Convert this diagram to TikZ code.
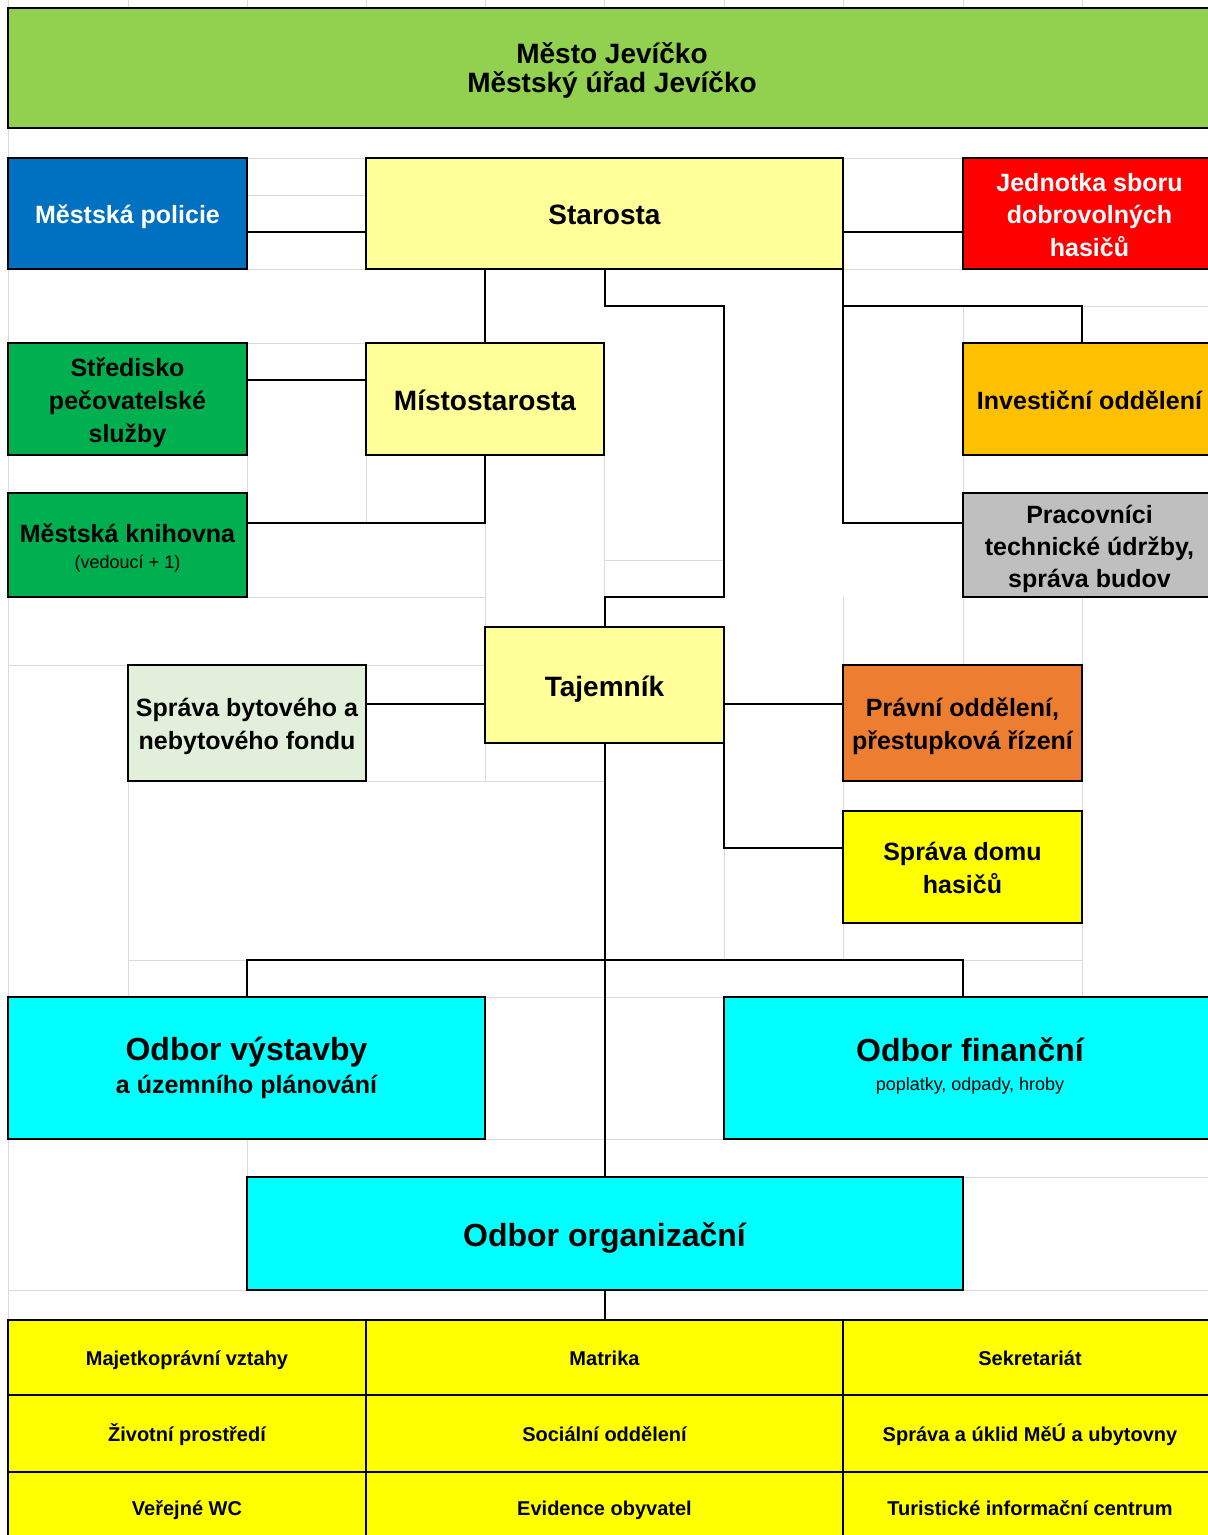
\documentclass[tikz,border=0pt]{standalone}
\usepackage{fontspec}
\setmainfont{Liberation Sans}
\usetikzlibrary{calc}
\definecolor{hdrgreen}{HTML}{92D050}
\definecolor{polblue}{HTML}{0070C0}
\definecolor{lightyel}{HTML}{FFFF99}
\definecolor{firered}{HTML}{FF0000}
\definecolor{dkgreen}{HTML}{00B050}
\definecolor{amber}{HTML}{FFC000}
\definecolor{midgray}{HTML}{BFBFBF}
\definecolor{palegreen}{HTML}{E2EFDA}
\definecolor{orng}{HTML}{ED7D31}
\definecolor{yel}{HTML}{FFFF00}
\definecolor{cyanbox}{HTML}{00FFFF}
\definecolor{gridgray}{HTML}{DADADA}
\newcommand{\xs}{\vrule width 0pt height \dimexpr0.905em+3pt\relax depth 0.212em\relax}
\newcommand{\xsd}[1]{\vrule width 0pt height \dimexpr0.905em+3pt\relax depth \dimexpr0.212em+#1\relax\relax}
\begin{document}
\lineskiplimit=-100pt
\begin{tikzpicture}[x=1pt,y=-1pt,
  box/.style={draw=black, line width=2pt, rectangle, inner sep=0pt, align=center,
    font=\bfseries\fontsize{25}{33}\selectfont},
  bigbox/.style={box, font=\bfseries\fontsize{28}{29}\selectfont},
  cell/.style={box, fill=yel, font=\bfseries\fontsize{20}{24}\selectfont},
  conn/.style={draw=black, line width=2pt},
  gridln/.style={draw=gridgray, line width=1pt}]
\useasboundingbox (0,0) rectangle (1208,1535);
\clip (0,0) rectangle (1208,1535);
\fill[white] (0,0) rectangle (1208,1535);

% faint spreadsheet grid lines
\draw[gridln] (8,0) -- (8,1535);
\foreach \gx in {128,247,366,485,604,724,843,963,1082} {\draw[gridln] (\gx,0) -- (\gx,8);}
\draw[gridln] (247,158) -- (366,158) (247,195) -- (366,195) (247,269) -- (366,269) (247,343) -- (366,343);
\draw[gridln] (843,158) -- (963,158) (843,269) -- (963,269) (1082,306) -- (1208,306);
\draw[gridln] (963,306) -- (963,343) (963,455) -- (963,493) (963,597) -- (963,665);
\draw[gridln] (247,455) -- (247,493) (366,455) -- (366,523) (604,455) -- (604,627) (485,523) -- (485,627);
\draw[gridln] (604,560) -- (724,560) (247,597) -- (485,597);
\draw[gridln] (8,665) -- (128,665) (366,665) -- (485,665);
\draw[gridln] (843,597) -- (843,665) (1082,597) -- (1082,665);
\draw[gridln] (485,743) -- (485,781) (366,781) -- (604,781) (128,781) -- (128,997);
\draw[gridln] (843,781) -- (843,811) (1082,781) -- (1082,811);
\draw[gridln] (724,848) -- (724,960) (843,923) -- (843,960) (1082,923) -- (1082,997);
\draw[gridln] (128,960) -- (247,960) (963,960) -- (1082,960);
\draw[gridln] (485,997) -- (724,997) (485,1139) -- (724,1139) (247,1139) -- (247,1177);
\draw[gridln] (963,1177) -- (1208,1177) (8,1290) -- (247,1290) (963,1290) -- (1208,1290);

% boxes
\node[bigbox, fill=hdrgreen, minimum width=1208pt, minimum height=120pt] (head) at (612,68)
  {\xs Město Jevíčko\\\xsd{2pt}Městský úřad Jevíčko};
\node[box, fill=polblue, text=white, minimum width=239pt, minimum height=111pt] (police) at (127.5,213.5) {\xs Městská policie};
\node[bigbox, fill=lightyel, minimum width=477pt, minimum height=111pt] (starosta) at (604.5,213.5) {\xs Starosta};
\node[box, fill=firered, text=white, minimum width=253pt, minimum height=111pt, font=\bfseries\fontsize{25}{32.5}\selectfont] (jednotka) at (1089.5,213.5)
  {\xs Jednotka sboru\\\xs dobrovolných\\\xs hasičů};
\node[box, fill=dkgreen, minimum width=239pt, minimum height=112pt] (stredisko) at (127.5,399)
  {\xs Středisko\\\xs pečovatelské\\\xs služby};
\node[bigbox, fill=lightyel, minimum width=238pt, minimum height=112pt] (misto) at (485,399) {\xs Místostarosta};
\node[box, fill=amber, minimum width=253pt, minimum height=112pt] (invest) at (1089.5,399) {\xs Investiční oddělení};
\node[box, fill=dkgreen, minimum width=239pt, minimum height=104pt, font=\bfseries\fontsize{25}{26}\selectfont] (knihovna) at (127.5,545)
  {\xs Městská knihovna\\{\mdseries\fontsize{18}{26}\selectfont\xs (vedoucí + 1)}};
\node[box, fill=midgray, minimum width=253pt, minimum height=104pt, font=\bfseries\fontsize{25}{32}\selectfont] (pracovnici) at (1089.5,545)
  {\xs Pracovníci\\\xs technické údržby,\\\xs správa budov};
\node[bigbox, fill=lightyel, minimum width=239pt, minimum height=116pt] (tajemnik) at (604.5,685) {\xs Tajemník};
\node[box, fill=palegreen, minimum width=238pt, minimum height=116pt] (sprbyt) at (247,723)
  {\xs Správa bytového a\\\xs nebytového fondu};
\node[box, fill=orng, minimum width=239pt, minimum height=116pt] (pravni) at (962.5,723)
  {\xs Právní oddělení,\\\xs přestupková řízení};
\node[box, fill=yel, minimum width=239pt, minimum height=112pt] (domu) at (962.5,867)
  {\xs Správa domu\\\xs hasičů};
\node[box, fill=cyanbox, minimum width=477pt, minimum height=142pt, font=\bfseries\fontsize{25}{33.4}\selectfont] (vystavby) at (246.5,1068)
  {{\fontsize{32}{33.4}\selectfont\xs Odbor výstavby}\\\xsd{9pt}a územního plánování};
\node[box, fill=cyanbox, minimum width=492pt, minimum height=142pt, font=\bfseries\fontsize{25}{29}\selectfont] (financni) at (970,1068)
  {{\fontsize{32}{29}\selectfont\xs Odbor finanční}\\{\mdseries\fontsize{18}{29}\selectfont\xsd{13pt}poplatky, odpady, hroby}};
\node[box, fill=cyanbox, minimum width=716pt, minimum height=113pt, font=\bfseries\fontsize{32}{34}\selectfont] (organ) at (604.5,1233.5)
  {\xs Odbor organizační};

% bottom table
\node[cell, minimum width=358pt, minimum height=75pt] (c11) at (187,1357.5) {\xs Majetkoprávní vztahy};
\node[cell, minimum width=477pt, minimum height=75pt] (c12) at (604.5,1357.5) {\xs Matrika};
\node[cell, minimum width=374pt, minimum height=75pt] (c13) at (1030,1357.5) {\xs Sekretariát};
\node[cell, minimum width=358pt, minimum height=77pt] (c21) at (187,1433.5) {\xs Životní prostředí};
\node[cell, minimum width=477pt, minimum height=77pt] (c22) at (604.5,1433.5) {\xs Sociální oddělení};
\node[cell, minimum width=374pt, minimum height=77pt] (c23) at (1030,1433.5) {\xs Správa a úklid MěÚ a ubytovny};
\node[cell, minimum width=358pt, minimum height=70pt] (c31) at (187,1507) {\xs Veřejné WC};
\node[cell, minimum width=477pt, minimum height=70pt] (c32) at (604.5,1507) {\xs Evidence obyvatel};
\node[cell, minimum width=374pt, minimum height=70pt] (c33) at (1030,1507) {\xs Turistické informační centrum};

% bend points
\coordinate (k1) at (724,306);
\coordinate (k2) at (724,597);
\coordinate (k3) at (843,306);
\coordinate (hb) at (604.5,960);

% connectors
\draw[conn] ([yshift=-18.5pt]police.east) -- ([yshift=-18.5pt]starosta.west);
\draw[conn] ([yshift=-18.5pt]starosta.east) -- ([yshift=-18.5pt]jednotka.west);
\draw[conn] (misto.north |- starosta.south) -- (misto.north);
\draw[conn] (starosta.south) |- (k1) -- (k2) -| (tajemnik.north);
\draw[conn] ([xshift=-1pt]starosta.south east) |- ([yshift=22pt]pracovnici.west);
\draw[conn] (k3) -| ([xshift=-7.5pt]invest.north);
\draw[conn] ([yshift=19pt]stredisko.east) -- ([yshift=19pt]misto.west);
\draw[conn] (misto.south) |- ([yshift=22pt]knihovna.east);
\draw[conn] ([yshift=-19pt]tajemnik.west) -- ([yshift=19pt]sprbyt.east);
\draw[conn] ([yshift=-19pt]tajemnik.east) -- ([yshift=19pt]pravni.west);
\draw[conn] ([xshift=-1pt]tajemnik.south east) |- ([yshift=19pt]domu.west);
\draw[conn] (tajemnik.south) -- (organ.north);
\draw[conn] (vystavby.north) |- (hb) -| ([xshift=-7pt]financni.north);
\draw[conn] (organ.south) -- (c12.north);
\end{tikzpicture}
\end{document}
